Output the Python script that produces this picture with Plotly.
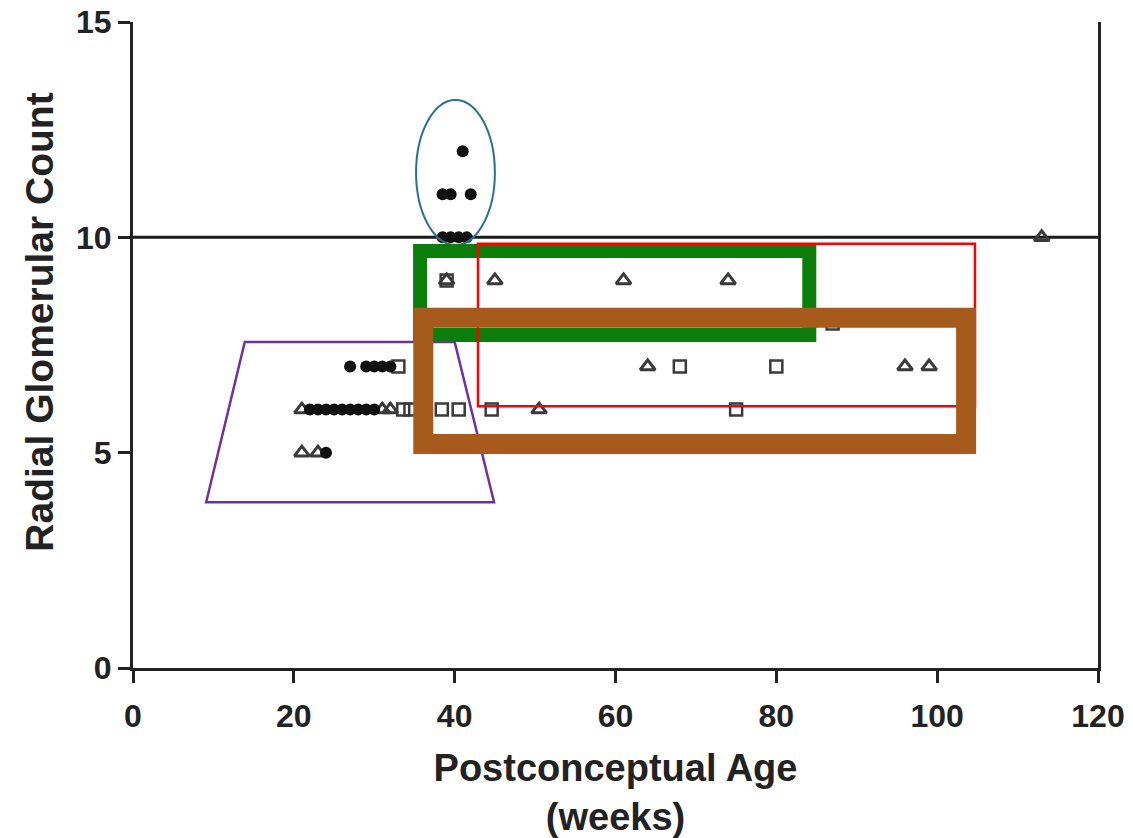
import plotly.graph_objects as go

# Radial glomerular count versus postconceptual age (weeks)

# Filled circles
circle_age = [41, 38.5, 39.5, 42, 38.5, 39.5, 40.5, 41.5,
              27, 29, 30, 31, 32,
              22, 23, 24, 25, 26, 27, 28, 29, 30,
              24]
circle_count = [12, 11, 11, 11, 10, 10, 10, 10,
                7, 7, 7, 7, 7,
                6, 6, 6, 6, 6, 6, 6, 6, 6,
                5]

# Open squares
square_age = [39, 87, 33, 68, 80, 33.6, 34.5, 38.4, 40.5, 44.6, 75]
square_count = [9, 8, 7, 7, 7, 6, 6, 6, 6, 6, 6]

# Open triangles
triangle_age = [113, 39, 45, 61, 74, 64, 96, 99, 21, 31, 32, 50.5, 21, 23]
triangle_count = [10, 9, 9, 9, 9, 7, 7, 7, 6, 6, 6, 6, 5, 5]

# Horizontal reference level
reference_count = 10

x_ticks = [0, 20, 40, 60, 80, 100, 120]
y_ticks = [0, 5, 10, 15]

fig = go.Figure()

fig.add_trace(go.Scatter(
    x=[x_ticks[0], x_ticks[-1]], y=[reference_count, reference_count],
    mode="lines", line=dict(color="#1a1a1a", width=3),
    hoverinfo="skip", showlegend=False))

fig.add_trace(go.Scatter(
    x=square_age, y=square_count, mode="markers",
    marker=dict(symbol="square-open", size=12, color="#3a3a3a",
                line=dict(width=2.5, color="#3a3a3a")),
    showlegend=False))

fig.add_trace(go.Scatter(
    x=triangle_age, y=triangle_count, mode="markers",
    marker=dict(symbol="triangle-up-open", size=13, color="#3a3a3a",
                line=dict(width=3, color="#3a3a3a")),
    showlegend=False))

fig.add_trace(go.Scatter(
    x=circle_age, y=circle_count, mode="markers",
    marker=dict(symbol="circle", size=12, color="#111111"),
    showlegend=False))

# Highlight outlines drawn over the data
shapes = [
    # purple trapezoid around the preterm cluster
    dict(type="path", path="M 13.9 7.57 L 40.0 7.57 L 44.9 3.85 L 9.1 3.85 Z",
         line=dict(color="#7030a0", width=2.5), layer="above"),
    # blue ellipse around the highest counts
    dict(type="circle", x0=35.2, x1=45.0, y0=9.82, y1=13.19,
         line=dict(color="#2e6f94", width=2), layer="above"),
    # green box
    dict(type="rect", x0=35.7, x1=84.1, y0=7.73, y1=9.68,
         line=dict(color="#0a7d0a", width=14), layer="above"),
    # thin red box
    dict(type="rect", x0=42.9, x1=104.7, y0=6.08, y1=9.85,
         line=dict(color="#ff0000", width=2.5), layer="above"),
    # brown box
    dict(type="rect", x0=36.1, x1=103.6, y0=5.2, y1=8.13,
         line=dict(color="#a65a1c", width=20), layer="above"),
]

fig.update_layout(
    width=1133, height=838,
    margin=dict(l=133, r=35, t=22, b=170),
    paper_bgcolor="white", plot_bgcolor="white",
    font=dict(family="Liberation Sans, Arial, sans-serif", color="#222222"),
    shapes=shapes,
    xaxis=dict(
        range=[0, 120], tickvals=x_ticks, ticks="outside", ticklen=12,
        tickwidth=2.5, tickcolor="#222222",
        showline=True, linewidth=3, linecolor="#222222",
        showgrid=False, zeroline=False, automargin=False,
        ticklabelstandoff=6,
        tickfont=dict(size=32, weight="bold", color="#222222"),
        title=dict(text="Postconceptual Age<br>(weeks)",
                   font=dict(size=38, weight="bold", color="#222222"),
                   standoff=26),
    ),
    yaxis=dict(
        range=[0, 15], tickvals=y_ticks, ticks="outside", ticklen=12,
        tickwidth=2.5, tickcolor="#222222",
        showline=True, linewidth=3, linecolor="#222222", mirror=True,
        showgrid=False, zeroline=False, automargin=False,
        tickfont=dict(size=32, weight="bold", color="#222222"),
    ),
    annotations=[
        dict(text="Radial Glomerular Count", textangle=-90,
             xref="paper", yref="paper", x=-0.0964, y=0.536,
             xanchor="center", yanchor="middle", showarrow=False,
             font=dict(size=39, weight="bold", color="#222222")),
    ],
)

fig.write_html("out.html")
